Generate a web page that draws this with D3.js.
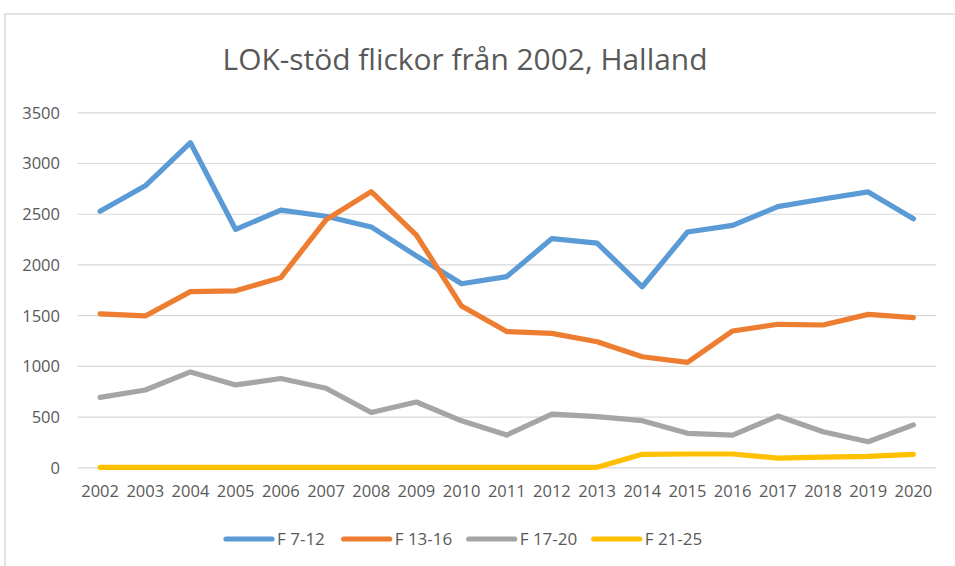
<!DOCTYPE html>
<html>
<head>
<meta charset="utf-8">
<script src="https://cdn.jsdelivr.net/npm/d3@7"></script>
<style>
  html, body { margin: 0; padding: 0; background: #fff; }
  svg { display: block; }
  text { font-family: "Open Sans", "Noto Sans", sans-serif; fill: #595959; }
</style>
</head>
<body>
<svg id="chart" width="955" height="566"></svg>
<script>
const title = "LOK-stöd flickor från 2002, Halland";
const years = ["2002","2003","2004","2005","2006","2007","2008","2009","2010","2011","2012","2013","2014","2015","2016","2017","2018","2019","2020"];
const seriesNames = ["F 7-12", "F 13-16", "F 17-20", "F 21-25"];
const f7_12  = [2525, 2775, 3200, 2345, 2535, 2475, 2370, 2085, 1810, 1880, 2255, 2210, 1780, 2320, 2385, 2570, 2645, 2715, 2450];
const f13_16 = [1512, 1492, 1732, 1740, 1870, 2440, 2718, 2290, 1590, 1338, 1320, 1238, 1090, 1035, 1344, 1410, 1403, 1508, 1476];
const f17_20 = [690, 762, 940, 812, 875, 780, 540, 644, 458, 318, 525, 500, 460, 335, 318, 505, 350, 252, 418];
const f21_25 = [0, 0, 0, 0, 0, 0, 0, 0, 0, 0, 0, 0, 128, 131, 131, 90, 100, 108, 128];
const yTicks = [0, 500, 1000, 1500, 2000, 2500, 3000, 3500];
const colors = ["#5B9BD5", "#ED7D31", "#A5A5A5", "#FFC000"];

const allSeries = [f7_12, f13_16, f17_20, f21_25];

const svg = d3.select("#chart");

// outer chart border
svg.append("rect")
  .attr("x", 5).attr("y", 14).attr("width", 1000).attr("height", 600)
  .attr("fill", "none").attr("stroke", "#d9d9d9").attr("stroke-width", 1.5);

const plot = { left: 77.5, right: 936, top: 112.3, bottom: 467.3 };

const x = d3.scaleBand().domain(years).range([plot.left, plot.right]);
const y = d3.scaleLinear().domain([0, 3500]).range([plot.bottom, plot.top]);

function fitText(sel, base, target) {
  sel.style("font-size", base + "px");
  const w = sel.node().getComputedTextLength();
  sel.style("font-size", (base * target / w) + "px");
}

// Title, sized to target width
const t = svg.append("text")
  .attr("x", 465).attr("y", 70)
  .attr("text-anchor", "middle")
  .text(title);
fitText(t, 30, 485);

// gridlines + y labels
const yAxis = d3.axisLeft(y).tickValues(yTicks).tickFormat(d3.format("d"))
  .tickSize(-(plot.right - plot.left)).tickPadding(17);
const gy = svg.append("g").attr("transform", `translate(${plot.left},0)`).call(yAxis);
gy.select(".domain").remove();
gy.selectAll(".tick line").attr("stroke", "#d9d9d9").attr("stroke-width", 1.2);
gy.selectAll(".tick text").style("font-size", "16.5px").attr("fill", "#595959")
  .attr("x", 60 - plot.left).attr("dy", "0.36em");

// x axis labels
const xAxis = d3.axisBottom(x).tickSize(0).tickPadding(0);
const gx = svg.append("g").attr("transform", `translate(0,${plot.bottom})`).call(xAxis);
gx.select(".domain").remove();
gx.selectAll(".tick text").style("font-size", "16.5px").attr("fill", "#595959")
  .attr("dy", null).attr("y", 29.3);

// lines
const line = d3.line()
  .x((d, i) => x(years[i]) + x.bandwidth() / 2)
  .y(d => y(d));

allSeries.forEach((s, k) => {
  svg.append("path")
    .datum(s)
    .attr("d", line)
    .attr("fill", "none")
    .attr("stroke", colors[k])
    .attr("stroke-width", 5.2)
    .attr("stroke-linecap", "round")
    .attr("stroke-linejoin", "round");
});

// legend
const legendX = [224, 341.7, 466.7, 591.7];
const legend = svg.append("g");
seriesNames.forEach((name, k) => {
  const lx = legendX[k];
  const g = legend.append("g");
  g.append("line")
    .attr("x1", lx + 2).attr("x2", lx + 48)
    .attr("y1", 539).attr("y2", 539)
    .attr("stroke", colors[k]).attr("stroke-width", 5.2)
    .attr("stroke-linecap", "round");
  g.append("text")
    .attr("x", lx + 53).attr("y", 544.5)
    .style("font-size", "17px")
    .text(name);
});
</script>
</body>
</html>
